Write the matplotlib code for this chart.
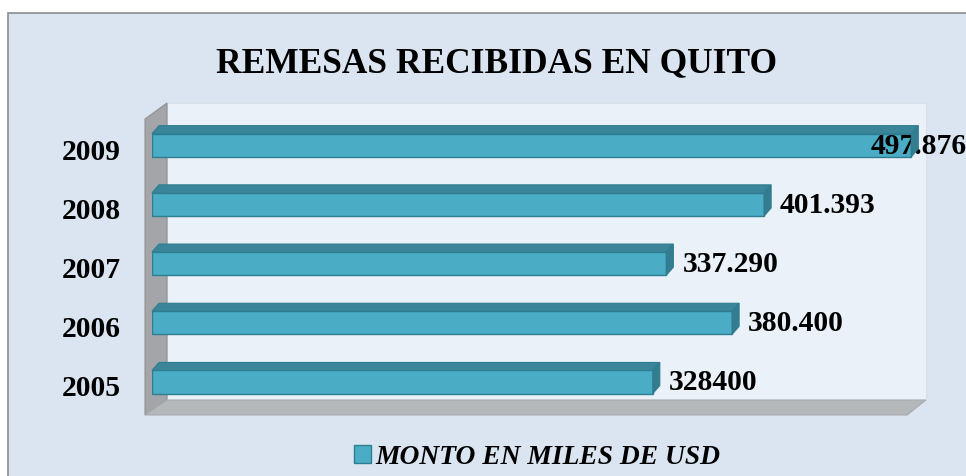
import matplotlib
matplotlib.use("Agg")
import matplotlib.pyplot as plt
from matplotlib.patches import Polygon, Rectangle, Patch
from matplotlib.font_manager import FontProperties

# data
years = ["2005", "2006", "2007", "2008", "2009"]
montos = [328400, 380400, 337290, 401393, 497876]
etiquetas = ["328400", "380.400", "337.290", "401.393", "497.876"]
titulo = "REMESAS RECIBIDAS EN QUITO"
serie = "MONTO EN MILES DE USD"

W, H = 966, 476
fig = plt.figure(figsize=(W / 100, H / 100), dpi=100, facecolor="white")

# background axes in pixel coords (from top-left) for the chart frame and 3D walls
bg = fig.add_axes([0, 0, 1, 1], zorder=0)
bg.set_xlim(0, W)
bg.set_ylim(H, 0)
bg.axis("off")
bg.add_patch(Rectangle((8, 13), W, H, facecolor="#DBE5F1", edgecolor="#8C8C8C", lw=1.2))
bg.add_patch(Rectangle((167, 103), 759, 297, facecolor="#EAF1F8", edgecolor="#D9E0E8", lw=0.8))
bg.add_patch(Polygon([(145, 119), (167, 103), (167, 400), (145, 415)],
                     facecolor="#A3A5A8", edgecolor="#8F9193", lw=0.8))
bg.add_patch(Polygon([(145, 415), (167, 400), (926, 400), (907, 415)],
                     facecolor="#B5B8BB", edgecolor="#A9ACAF", lw=0.8))

# main axes
ax = fig.add_axes([152 / W, (H - 411.6) / H, 762.5 / W, 296 / H], zorder=1)
ax.set_xlim(0, 500000)
ax.set_ylim(-0.5, 4.5)
ax.axis("off")
ax.patch.set_alpha(0)

pos = list(range(len(years)))
bh = 0.39
front = "#4BACC6"
edge = "#2F7D90"
ax.barh(pos, montos, height=bh, color=front, edgecolor=edge, lw=1, zorder=3)

# top and side faces of each bar, from the bar's screen position
dx, dy = 7, 8
fig.canvas.draw()
for i, v in zip(pos, montos):
    tl = ax.transData.transform((0, i + bh / 2))
    tr = ax.transData.transform((v, i + bh / 2))
    br = ax.transData.transform((v, i - bh / 2))
    top = [tl, tr, (tr[0] + dx, tr[1] + dy), (tl[0] + dx, tl[1] + dy)]
    side = [tr, br, (br[0] + dx, br[1] + dy), (tr[0] + dx, tr[1] + dy)]
    fig.add_artist(Polygon(top, closed=True, transform=None, facecolor="#3A8599",
                           edgecolor=edge, lw=0.8, zorder=2))
    fig.add_artist(Polygon(side, closed=True, transform=None, facecolor="#347C8F",
                           edgecolor=edge, lw=0.8, zorder=2))

lab_font = dict(family="Liberation Serif", weight="bold", size=21.3, color="black")

for i, y in zip(pos, years):
    ax.annotate(y, xy=(0, i), xytext=(-31, -7), textcoords="offset pixels",
                ha="right", va="center", **lab_font)

for i, v, t in zip(pos, montos, etiquetas):
    end_px = ax.transData.transform((v, i))[0]
    off = min(16, 871 - end_px)
    ax.annotate(t, xy=(v, i), xytext=(off, -1), textcoords="offset pixels",
                ha="left", va="center", zorder=5, **lab_font)

fig.text(497 / W, 1 - 64 / H, titulo, ha="center", va="center",
         family="Liberation Serif", weight="bold", size=25.5)

fig.legend(handles=[Patch(facecolor=front, edgecolor=edge)], labels=[serie],
           loc="center", bbox_to_anchor=(537 / W, 1 - 457 / H), frameon=False,
           prop=FontProperties(family="Liberation Serif", weight="bold", style="italic", size=19.8),
           handlelength=0.65, handleheight=0.65, handletextpad=0.15)

fig.savefig("out.png", dpi=100, facecolor="white")
